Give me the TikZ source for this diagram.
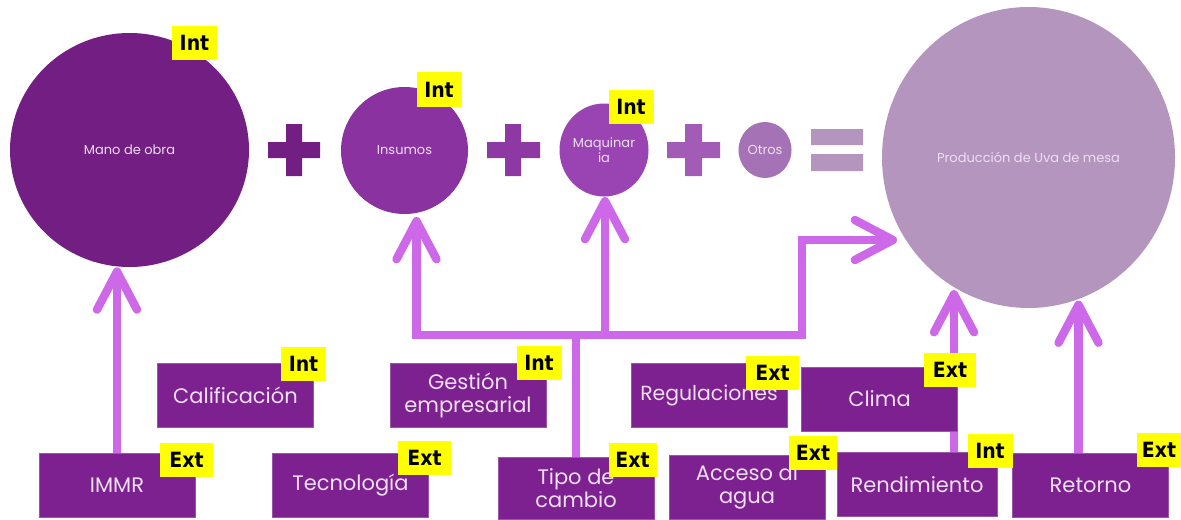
\documentclass[tikz,border=0pt]{standalone}
\usepackage{fontspec}
\setmainfont{Poppins}
\newfontfamily\labfont{DejaVu Sans Condensed}
\usetikzlibrary{shapes.geometric,arrows.meta}
\pgfdeclarelayer{arrowlayer}
\pgfsetlayers{arrowlayer,main}
\definecolor{cA}{HTML}{731E82}
\definecolor{cB}{HTML}{8A32A0}
\definecolor{cBp}{HTML}{8D38A3}
\definecolor{cC}{HTML}{9A44B4}
\definecolor{cCp}{HTML}{A35CB5}
\definecolor{cD}{HTML}{A572B5}
\definecolor{cE}{HTML}{B395BD}
\definecolor{boxfill}{HTML}{7E2190}
\definecolor{boxline}{HTML}{9A55A8}
\definecolor{txtlight}{HTML}{EEDFF2}
\definecolor{arrowcol}{HTML}{CD68E8}
\definecolor{tagyellow}{HTML}{FFFF00}
\tikzset{
  circ/.style={ellipse, inner sep=0pt, text=txtlight, align=center,
    font=\fontsize{6.5}{7.5}\selectfont},
  factor/.style={rectangle, fill=boxfill, draw=boxline, line width=0.4pt,
    text=txtlight, align=center, inner sep=0pt,
    minimum width=78pt, minimum height=32pt,
    font=\fontsize{10.5}{11.5}\selectfont},
  tag/.style={rectangle, fill=tagyellow, inner sep=0pt, text=black,
    minimum width=22.5pt, minimum height=17pt,
    font=\labfont\bfseries\fontsize{10.5}{11}\selectfont},
  barb/.tip={Straight Barb[length=19pt, width=20pt, round]},
  arr/.style={draw=arrowcol, line width=4.2pt, -barb},
  arrboth/.style={draw=arrowcol, line width=4.2pt, barb-barb, line join=miter},
  link/.style={draw=arrowcol, line width=4.2pt}
}
\begin{document}
\begin{tikzpicture}[x=0.5pt,y=-0.5pt]
\useasboundingbox (0,0) rectangle (1181,519);

% circles
\node[circ, fill=cA, minimum width=119.5pt, minimum height=117pt] (c1) at (129.5,150) {Mano de obra};
\node[circ, fill=cB, minimum width=63.5pt, minimum height=63.5pt] (c2) at (404.5,150.5) {Insumos};
\node[circ, fill=cC, minimum width=44.5pt, minimum height=46.5pt] (c3) at (604,150) {Maquinar\\ia};
\node[circ, fill=cD, minimum width=26.5pt, minimum height=28pt] (c4) at (765,150) {Otros};
\node[circ, fill=cE, minimum width=146.5pt, minimum height=150.5pt] (c5) at (1028.5,157.5) {Producción de Uva de mesa};

% plus and equals signs
\fill[cA] (286,124) rectangle (302,176) (268,142) rectangle (320,158);
\fill[cBp] (505,124) rectangle (521,176) (487,142) rectangle (540,158);
\fill[cCp] (685,124) rectangle (702,176) (667,142) rectangle (720,158);
\fill[cE] (811,129) rectangle (863,145) (811,154) rectangle (863,171);

% factor boxes
\node[factor] (immr) at (117,485) {IMMR};
\node[factor] (tec) at (350.5,485) {Tecnología};
\node[factor, minimum height=31pt] (tipo) at (576,488) {Tipo de\\cambio};
\node[factor, minimum height=32pt] (acc) at (747,487) {Acceso al\\agua};
\node[factor, minimum width=80pt] (rend) at (917,484.5) {Rendimiento};
\node[factor] (ret) at (1090.5,485) {Retorno};
\node[factor] (cal) at (235.5,395) {Calificación};
\node[factor] (ges) at (468,395) {Gestión\\empresarial};
\node[factor, font=\fontsize{10.2}{11.5}\selectfont] (reg) at (709,395.5) {Regulaciones};
\node[factor] (cli) at (879.5,399) {Clima};

% tags
\node[tag] (t1) at (194.5,43) {Int};
\node[tag] (t2) at (439,89.5) {Int};
\node[tag] (t3) at (631,107) {Int};
\node[tag] (t4) at (303.5,364) {Int};
\node[tag] (t5) at (539,363) {Int};
\node[tag, minimum width=26.5pt] (t6) at (772.5,373) {Ext};
\node[tag, minimum width=26pt] (t7) at (950,370) {Ext};
\node[tag, minimum width=26.5pt] (t8) at (186.5,459.5) {Ext};
\node[tag, minimum width=26.5pt] (t9) at (424.5,457.5) {Ext};
\node[tag, minimum width=24pt] (t10) at (632.5,459.5) {Ext};
\node[tag, minimum width=24pt] (t11) at (813,453) {Ext};
\node[tag] (t12) at (990,451) {Int};
\node[tag, minimum width=22pt] (t13) at (1159,449.5) {Ext};

% connectors
\coordinate (tinsu) at (416.5,217);
\coordinate (jR) at (802,335);
\coordinate (jT) at (802,240);
\coordinate (tprod) at (897,240);
\coordinate (tmaq) at (605,197);
\begin{pgfonlayer}{arrowlayer}
\draw[arr] (immr.north) -- (immr.north |- c1.south);
\draw[arrboth] (tinsu) -- (tinsu |- jR) -- (jR) -- (jT) -- (tprod);
\draw[link] (tipo.north) -- (tipo.north |- jR);
\draw[arr] (tmaq |- jR) -- (tmaq);
\draw[arr] ([xshift=18.5pt]rend.north) -- ++(0,-162);
\draw[arr] ([xshift=-6pt]ret.north) -- ++(0,-152);
\end{pgfonlayer}
\end{tikzpicture}
\end{document}
